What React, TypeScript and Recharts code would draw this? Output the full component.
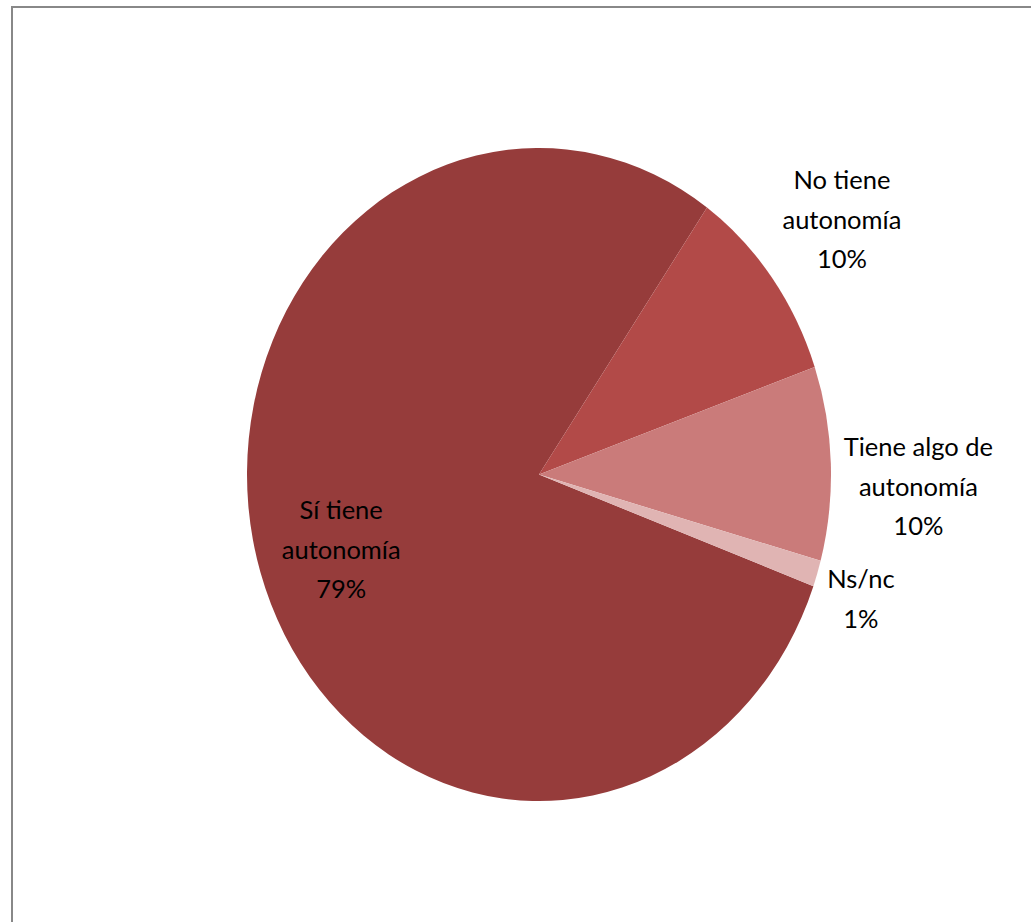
import React from "react";
import { PieChart, Pie, Cell } from "recharts";

const categories = ["Sí tiene autonomía", "No tiene autonomía", "Tiene algo de autonomía", "Ns/nc"];
const shares = [79.2, 9.9, 9.6, 1.3];
const colors = ["#963C3B", "#B24A48", "#CA7B7A", "#E0B4B3"];

const data = categories.map((name, i) => ({ name, value: shares[i] }));

const Y_STRETCH = 326.5 / 292;
const RAD = Math.PI / 180;
// vertical nudges for label placement (layout, not data)
const LABEL_NUDGE_Y = [5, 0, 26, 9];

function EllipseSector(props: any) {
  const { cx, cy, outerRadius, startAngle, endAngle, fill } = props;
  const rx = outerRadius;
  const ry = outerRadius * Y_STRETCH;
  const p = (a: number) => [cx + rx * Math.cos(a * RAD), cy - ry * Math.sin(a * RAD)];
  const [x1, y1] = p(startAngle);
  const [x2, y2] = p(endAngle);
  const span = Math.abs(endAngle - startAngle);
  const large = span > 180 ? 1 : 0;
  const sweep = endAngle < startAngle ? 1 : 0;
  const d = `M ${cx} ${cy} L ${x1} ${y1} A ${rx} ${ry} 0 ${large} ${sweep} ${x2} ${y2} Z`;
  return <path d={d} fill={fill} stroke="none" />;
}

function wrap(name: string): string[] {
  const idx = name.lastIndexOf(" autonomía");
  if (idx > 0) return [name.slice(0, idx), "autonomía"];
  return [name];
}

function renderLabel(props: any) {
  const { cx, cy, midAngle, outerRadius, percent, name, index } = props;
  let f = 1.3;
  if (percent > 0.5) f = 0.71;
  else if (percent < 0.05) f = 1.157;
  const x = cx + outerRadius * f * Math.cos(midAngle * RAD);
  const y = cy - outerRadius * Y_STRETCH * f * Math.sin(midAngle * RAD) + (LABEL_NUDGE_Y[index] || 0);
  const lines = [...wrap(name), `${Math.round(percent * 100)}%`];
  const lh = 39.5;
  const top = y - ((lines.length - 1) * lh) / 2;
  return (
    <text
      x={x}
      y={top}
      textAnchor="middle"
      dominantBaseline="central"
      fill="#000"
      fontFamily="Lato, 'Open Sans', sans-serif"
      fontSize={25.5}
    >
      {lines.map((l, i) => (
        <tspan key={i} x={x} y={top + i * lh}>
          {l}
        </tspan>
      ))}
    </text>
  );
}

export default function App() {
  return (
    <div style={{ position: "absolute", left: 0, top: 0, width: 1031, height: 922, overflow: "hidden", background: "#fff" }}>
      <div
        style={{
          position: "absolute",
          left: 11,
          top: 6,
          width: 1100,
          height: 1000,
          border: "2px solid #888",
          boxSizing: "border-box",
        }}
      />
      <div style={{ position: "absolute", left: 0, top: 0 }}>
        <PieChart width={1031} height={922} margin={{ top: 0, right: 0, bottom: 0, left: 0 }}>
          <Pie
            data={data}
            dataKey="value"
            nameKey="name"
            cx={539}
            cy={474.5}
            outerRadius={292}
            startAngle={-20}
            endAngle={-380}
            isAnimationActive={false}
            labelLine={false}
            label={renderLabel}
            shape={EllipseSector}
            stroke="none"
          >
            {data.map((d, i) => (
              <Cell key={d.name} fill={colors[i]} />
            ))}
          </Pie>
        </PieChart>
      </div>
    </div>
  );
}
